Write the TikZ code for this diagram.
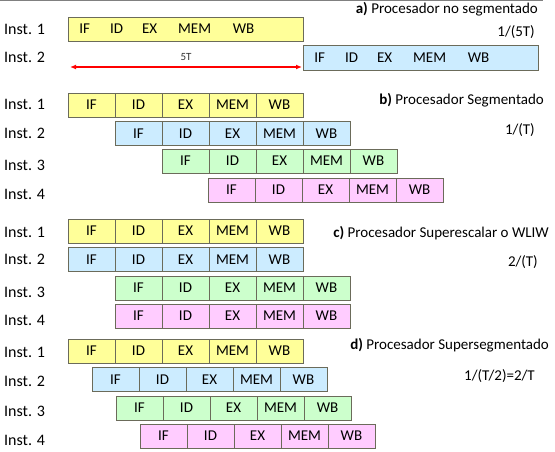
\documentclass[tikz,border=0pt]{standalone}
\usepackage{fontspec}
\setmainfont{Carlito}
\usetikzlibrary{arrows.meta}

\definecolor{stgyellow}{HTML}{FFFF99}
\definecolor{stgblue}{HTML}{CCECFF}
\definecolor{stggreen}{HTML}{CCFFCC}
\definecolor{stgpink}{HTML}{FFCCFF}
\definecolor{stgline}{HTML}{6B6B5A}

% one row of the pipeline: name, left x, centre y, colour
\newcommand{\pipeline}[4]{%
  \foreach \st [count=\k] in {IF,ID,EX,MEM,WB}
    \node[cell, fill=#4] (#1-\k) at ({#2+(\k-0.5)*47},#3) {\st};
}

\begin{document}
\begin{tikzpicture}[x=1pt,y=-1pt,
  cell/.style={draw=stgline, line width=0.8pt, minimum width=47pt,
    minimum height=24pt, inner sep=0pt, font=\fontsize{15}{15}\selectfont},
  longbox/.style={cell, minimum width=235pt},
  stage/.style={inner sep=0pt, font=\fontsize{15}{15}\selectfont},
  inst/.style={anchor=west, inner sep=0pt, font=\fontsize{16}{16}\selectfont},
  title/.style={anchor=east, inner sep=0pt, font=\fontsize{15}{15}\selectfont},
  rate/.style={anchor=east, inner sep=0pt, font=\fontsize{15}{15}\selectfont}]
\useasboundingbox (0,0) rectangle (555,452);
\draw [black!50, line width=0.8pt] (0,0.5) -- (543,0.5);

% a) no segmentado
\node[inst] (la1) at (4,29) {Inst. 1};
\node[inst] (la2) at (4,57) {Inst. 2};
\node[longbox, fill=stgyellow] (a1) at (185.5,29) {};
\node[longbox, fill=stgblue, minimum height=25pt] (a2) at (420.5,57.5) {};
\foreach \st/\dx in {IF/17,ID/49,EX/82,MEM/127,WB/176} {
  \node[stage] (a1-\st) at ([xshift=\dx]a1.west) {\st};
  \node[stage] (a2-\st) at ([xshift=\dx]a2.west) {\st};
}
\coordinate (t0) at (70,67);
\coordinate (t1) at (302,67);
\draw [red, line width=1.2pt, {Latex[length=6pt,width=5pt]}-{Latex[length=6pt,width=5pt]}] (t0) -- (t1)
  node[midway, above=6pt, inner sep=0pt, text=black!80, font=\fontsize{11}{11}\selectfont] (t5) {5T};
\node[title] (ta) at (538,9) {\textbf{a)} Procesador no segmentado};
\node[rate] (ra) at (535,32) {1/(5T)};

% b) segmentado
\node[inst] (lb1) at (4,104) {Inst. 1};
\node[inst] (lb2) at (4,133) {Inst. 2};
\node[inst] (lb3) at (4,165) {Inst. 3};
\node[inst] (lb4) at (4,194) {Inst. 4};
\pipeline{b1}{68}{105}{stgyellow}
\pipeline{b2}{115}{133.5}{stgblue}
\pipeline{b3}{162}{161}{stggreen}
\pipeline{b4}{208}{190}{stgpink}
\node[title] (tb) at (544,100) {\textbf{b)} Procesador Segmentado};
\node[rate] (rb) at (535,130) {1/(T)};

% c) superescalar
\node[inst] (lc1) at (4,232) {Inst. 1};
\node[inst] (lc2) at (4,259) {Inst. 2};
\node[inst] (lc3) at (4,292) {Inst. 3};
\node[inst] (lc4) at (4,320) {Inst. 4};
\pipeline{c1}{68}{231}{stgyellow}
\pipeline{c2}{68}{259.5}{stgblue}
\pipeline{c3}{115}{288}{stggreen}
\pipeline{c4}{115}{316}{stgpink}
\node[title] (tc) at (549,233) {\textbf{c)} Procesador Superescalar o WLIW};
\node[rate] (rc) at (538,262) {2/(T)};

% d) supersegmentado
\node[inst] (ld1) at (4,352) {Inst. 1};
\node[inst] (ld2) at (4,381) {Inst. 2};
\node[inst] (ld3) at (4,411) {Inst. 3};
\node[inst] (ld4) at (4,440) {Inst. 4};
\pipeline{d1}{68}{351}{stgyellow}
\pipeline{d2}{92}{379.5}{stgblue}
\pipeline{d3}{116}{408}{stggreen}
\pipeline{d4}{140}{436}{stgpink}
\node[title] (td) at (549,345) {\textbf{d)} Procesador Supersegmentado};
\node[rate] (rd) at (535,376) {1/(T/2)=2/T};
\end{tikzpicture}
\end{document}
